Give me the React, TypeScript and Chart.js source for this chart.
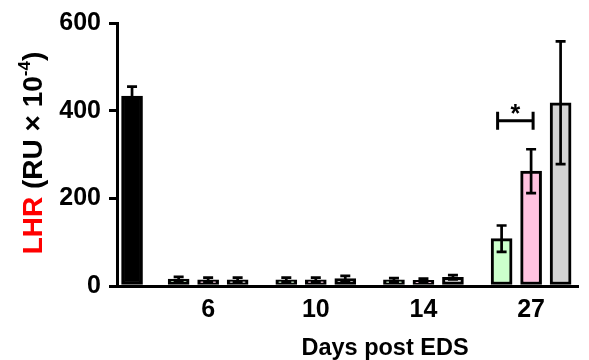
import React, { useEffect, useRef } from "react";
import { Chart, registerables } from "chart.js";

Chart.register(...registerables);

// ---- data ----
const DAYS = ["6", "10", "14", "27"];
const BASELINE_VALUE = [433];
const BASELINE_ERROR = [22];
const GREEN_VALUES = [16, 14, 14, 108];
const GREEN_ERRORS = [5, 5, 4, 30];
const PINK_VALUES = [14, 14, 13, 262];
const PINK_ERRORS = [5, 5, 4, 50];
const GRAY_VALUES = [14, 17, 20, 418];
const GRAY_ERRORS = [5, 6, 5, 140];
const Y_TICKS = [0, 200, 400, 600];
const SIG_GROUP = 3;
const SIG_LEVEL = [377];
const SIG_LABEL = "*";

// ---- layout (x axis in bar-slot units) ----
const FIRST_GROUP_CENTER = 2.58;
const GROUP_STEP = 3.65;
const groupCenter = (i: number) => FIRST_GROUP_CENTER + i * GROUP_STEP;

const FONT = "'Liberation Sans', Arial, sans-serif";

const errorBarPlugin = {
  id: "errorBars",
  afterDatasetsDraw(chart: any) {
    const ctx = chart.ctx;
    const yScale = chart.scales.y;
    ctx.save();
    ctx.strokeStyle = "#000";
    ctx.lineWidth = 2.7;
    chart.data.datasets.forEach((ds: any, di: number) => {
      const meta = chart.getDatasetMeta(di);
      meta.data.forEach((el: any, j: number) => {
        const v = ds.data[j].y;
        const e = ds.errors[j];
        const x = el.x;
        const yt = yScale.getPixelForValue(v + e);
        const yb = yScale.getPixelForValue(Math.max(0, v - e));
        const cap = 5;
        ctx.beginPath();
        ctx.moveTo(x, yt);
        ctx.lineTo(x, yb);
        ctx.moveTo(x - cap, yt);
        ctx.lineTo(x + cap, yt);
        ctx.moveTo(x - cap, yb);
        ctx.lineTo(x + cap, yb);
        ctx.stroke();
      });
    });
    // significance bracket
    const m1 = chart.getDatasetMeta(1).data[SIG_GROUP];
    const m2 = chart.getDatasetMeta(2).data[SIG_GROUP];
    const x1 = m1.x - 4;
    const x2 = m2.x + 2;
    const y = yScale.getPixelForValue(SIG_LEVEL[0]);
    ctx.lineWidth = 3;
    ctx.beginPath();
    ctx.moveTo(x1, y);
    ctx.lineTo(x2, y);
    ctx.moveTo(x1, y - 9);
    ctx.lineTo(x1, y + 9);
    ctx.moveTo(x2, y - 9);
    ctx.lineTo(x2, y + 9);
    ctx.stroke();
    ctx.fillStyle = "#000";
    ctx.font = `bold 25px ${FONT}`;
    ctx.textAlign = "center";
    ctx.textBaseline = "alphabetic";
    ctx.fillText(SIG_LABEL, (x1 + x2) / 2, y + 1);
    ctx.restore();
  },
};

const titlesPlugin = {
  id: "titles",
  afterDraw(chart: any) {
    const ctx = chart.ctx;
    ctx.save();
    // x title
    ctx.fillStyle = "#000";
    ctx.font = `bold 23.5px ${FONT}`;
    ctx.textAlign = "center";
    ctx.textBaseline = "alphabetic";
    ctx.fillText("Days post EDS", 385, 355);

    // y title (rotated, multi-colour)
    const big = `bold 28px ${FONT}`;
    const small = `bold 17px ${FONT}`;
    const parts = [
      { t: "LHR", c: "#ff0000", f: big, dy: 0 },
      { t: " (RU \u00d7 10", c: "#000", f: big, dy: 0 },
      { t: "-4", c: "#000", f: small, dy: -12 },
      { t: ")", c: "#000", f: big, dy: 0 },
    ];
    let total = 0;
    const widths = parts.map((p) => {
      ctx.font = p.f;
      const w = ctx.measureText(p.t).width;
      total += w;
      return w;
    });
    ctx.translate(42, 153);
    ctx.rotate(-Math.PI / 2);
    ctx.textAlign = "left";
    let x = -total / 2;
    parts.forEach((p, i) => {
      ctx.font = p.f;
      ctx.fillStyle = p.c;
      ctx.fillText(p.t, x, p.dy);
      x += widths[i];
    });
    ctx.restore();
  },
};

export default function App() {
  const ref = useRef<HTMLCanvasElement | null>(null);

  useEffect(() => {
    document.body.style.margin = "0";
    if (!ref.current) return;
    const mk = (vals: number[], offset: number) =>
      vals.map((v, i) => ({ x: groupCenter(i) + offset, y: v }));
    const common = {
      borderColor: "#000",
      borderWidth: 3,
      borderSkipped: false,
      barThickness: 21,
      grouped: false,
    };
    const chart = new Chart(ref.current, {
      type: "bar",
      data: {
        datasets: [
          {
            ...common,
            data: [{ x: 0, y: BASELINE_VALUE[0] }],
            errors: BASELINE_ERROR,
            backgroundColor: "#000",
          } as any,
          { ...common, data: mk(GREEN_VALUES, -1), errors: GREEN_ERRORS, backgroundColor: "#ccffcc" } as any,
          { ...common, data: mk(PINK_VALUES, 0), errors: PINK_ERRORS, backgroundColor: "#ffc2e0" } as any,
          { ...common, data: mk(GRAY_VALUES, 1), errors: GRAY_ERRORS, backgroundColor: "#d4d4d4" } as any,
        ],
      },
      options: {
        animation: false,
        responsive: true,
        maintainAspectRatio: false,
        layout: { padding: { top: 23, right: 11, left: 0, bottom: 0 } },
        plugins: { legend: { display: false }, tooltip: { enabled: false } },
        scales: {
          x: {
            type: "linear",
            min: -0.51,
            max: 15.12,
            offset: false,
            grid: { display: false },
            border: { display: true, color: "#000", width: 3 },
            afterBuildTicks: (scale: any) => {
              scale.ticks = DAYS.map((_, i) => ({ value: groupCenter(i) }));
            },
            afterFit: (scale: any) => {
              scale.height = 74;
            },
            ticks: {
              autoSkip: false,
              maxRotation: 0,
              padding: 1,
              color: "#000",
              font: { family: FONT, size: 25, weight: "bold" },
              callback: (_v: any, i: number) => DAYS[i],
            },
          },
          y: {
            min: 0,
            max: 600,
            afterBuildTicks: (scale: any) => {
              scale.ticks = Y_TICKS.map((v) => ({ value: v }));
            },
            afterFit: (scale: any) => {
              scale.width = 117;
            },
            grid: {
              display: true,
              drawOnChartArea: false,
              drawTicks: true,
              tickLength: 8,
              color: "#000",
              lineWidth: 3,
            },
            border: { display: true, color: "#000", width: 3 },
            ticks: {
              padding: 8,
              color: "#000",
              font: { family: FONT, size: 25, weight: "bold" },
            },
          },
        },
      } as any,
      plugins: [errorBarPlugin, titlesPlugin],
    });
    return () => chart.destroy();
  }, []);

  return (
    <div style={{ width: 589, height: 360, position: "relative" }}>
      <canvas ref={ref} />
    </div>
  );
}
